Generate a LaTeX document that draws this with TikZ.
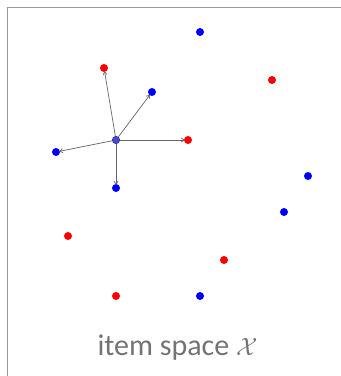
\documentclass[tikz,border=0pt]{standalone}
\usepackage{fontspec}
\setsansfont{Carlito}
\usetikzlibrary{arrows.meta}
\begin{document}
\begin{tikzpicture}[x=1pt,y=-1pt,
  bdot/.style={circle,fill=blue,inner sep=0pt,minimum size=8pt},
  rdot/.style={circle,fill=red,inner sep=0pt,minimum size=8pt},
  link/.style={draw=black!60,line width=0.7pt,-{Straight Barb[length=3pt,width=4pt]},shorten >=-1pt}]
\useasboundingbox (0,0) rectangle (341,376);
\draw[black!40,line width=1.5pt] (7.5,380) -- (7.5,7.5) -- (345,7.5);
\node[bdot] (b1) at (200,32) {};
\node[rdot] (r1) at (104,68) {};
\node[rdot] (r2) at (272,80) {};
\node[bdot] (b2) at (152,92) {};
\node[bdot] (b3) at (56,152) {};
\node[rdot] (r3) at (188,140) {};
\node[bdot] (b4) at (116,188) {};
\node[bdot] (b5) at (308,176) {};
\node[bdot] (b6) at (284,212) {};
\node[rdot] (r4) at (68,236) {};
\node[rdot] (r5) at (224,260) {};
\node[rdot] (r6) at (116,296) {};
\node[bdot] (b7) at (200,296) {};
\node[bdot] (c) at (116,140) {};
\foreach \t in {r1,b2,r3,b4,b3} \draw[link] (c) -- (\t);
\node[circle,fill=black!50,opacity=0.6,inner sep=0pt,minimum size=7pt] (cc) at (116,140) {};
\node[text=black!55,font=\sffamily\fontsize{30}{34}\selectfont,anchor=base,inner sep=0pt] (lbl) at (177.5,355) {item space $\mathcal{X}$};
\end{tikzpicture}
\end{document}
